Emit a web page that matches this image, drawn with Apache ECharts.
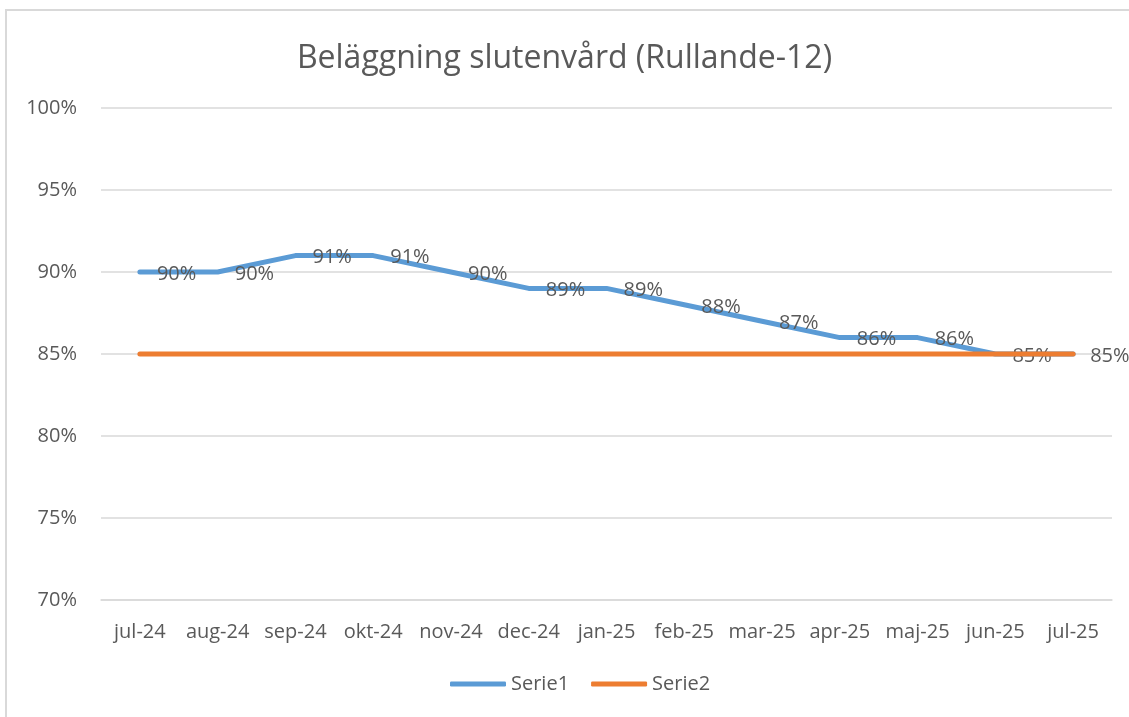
<!DOCTYPE html>
<html>
<head>
<meta charset="utf-8">
<script src="https://cdn.jsdelivr.net/npm/echarts@6/dist/echarts.min.js"></script>
<style>
    html, body { margin: 0; padding: 0; background: #fff; }
    #frame {
        position: absolute; left: 5px; top: 9px; width: 1140px; height: 730px;
        border: 2px solid #D9D9D9; box-sizing: border-box;
    }
    #myChart { position: absolute; left: 0; top: 0; width: 1129px; height: 717px; }
</style>
</head>
<body>
<div id="frame"></div>
<div id="myChart"></div>
<script>
    var months = ['jul-24', 'aug-24', 'sep-24', 'okt-24', 'nov-24', 'dec-24', 'jan-25',
        'feb-25', 'mar-25', 'apr-25', 'maj-25', 'jun-25', 'jul-25'];
    var serie1 = [90, 90, 91, 91, 90, 89, 89, 88, 87, 86, 86, 85, 85];
    var serie2 = [85, 85, 85, 85, 85, 85, 85, 85, 85, 85, 85, 85, 85];

    var textColor = '#595959';
    var fontName = '"Open Sans", Lato, sans-serif';

    var myChart = echarts.init(document.getElementById('myChart'));
    var option = {
        animation: false,
        textStyle: { fontFamily: fontName },
        title: {
            text: 'Beläggning slutenvård (Rullande-12)',
            left: 'center',
            top: 38,
            textStyle: { color: textColor, fontSize: 32, fontWeight: 'normal', fontFamily: fontName }
        },
        legend: {
            bottom: 18,
            left: 445,
            itemWidth: 56,
            itemHeight: 5,
            itemGap: 22,
            icon: 'roundRect',
            textStyle: { color: textColor, fontSize: 20, fontFamily: fontName },
            data: ['Serie1', 'Serie2']
        },
        grid: { // plot area as in the picture
            left: 101,
            right: 17,
            top: 108,
            bottom: 117
        },
        xAxis: {
            type: 'category',
            data: months,
            boundaryGap: true,
            axisLine: { lineStyle: { color: '#D9D9D9', width: 1.5 } },
            axisTick: { show: false },
            axisLabel: { color: textColor, fontSize: 20, margin: 22, interval: 0 }
        },
        yAxis: {
            type: 'value',
            min: 70,
            max: 100,
            interval: 5,
            axisLine: { show: false },
            axisTick: { show: false },
            axisLabel: { color: textColor, fontSize: 20, margin: 24, formatter: '{value}%' },
            splitLine: { lineStyle: { color: '#D9D9D9', width: 1.5 } }
        },
        series: [
            {
                name: 'Serie1',
                type: 'line',
                data: serie1,
                showSymbol: true,
                symbol: 'circle',
                symbolSize: 0.1,
                color: '#5B9BD5',
                lineStyle: { width: 5, cap: 'round', join: 'round' },
                label: {
                    show: true,
                    position: 'right',
                    distance: 17,
                    offset: [0, 2],
                    color: textColor,
                    fontSize: 20,
                    formatter: '{c}%'
                },
                z: 2
            },
            {
                name: 'Serie2',
                type: 'line',
                data: serie2,
                showSymbol: false,
                symbol: 'none',
                color: '#ED7D31',
                lineStyle: { width: 5, cap: 'round', join: 'round' },
                z: 3
            }
        ]
    };
    myChart.setOption(option);
</script>
</body>
</html>
